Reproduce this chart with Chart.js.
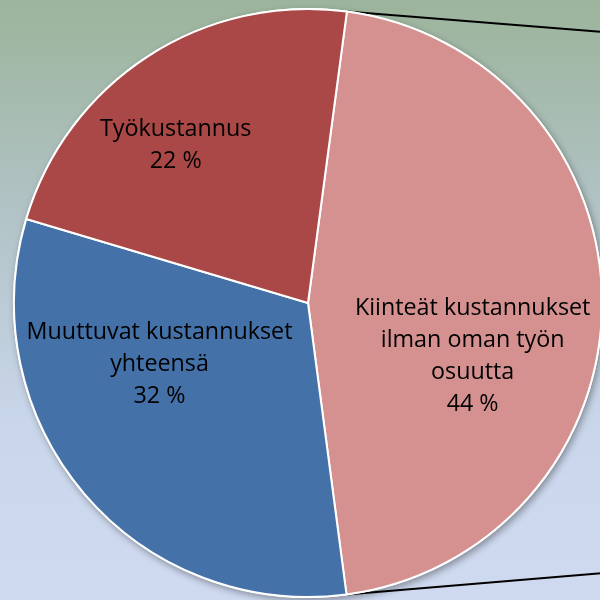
<!DOCTYPE html>
<html>
<head>
<meta charset="utf-8">
<script src="https://cdn.jsdelivr.net/npm/chart.js@4/dist/chart.umd.min.js"></script>
<style>
  html, body { margin: 0; padding: 0; width: 600px; height: 600px; overflow: hidden; }
  body { background: linear-gradient(to bottom, #9cb49b 0%, #b3c4c9 38%, #c9d6ea 70%, #cfdaf1 100%); position: relative; }
  #wrap { position: absolute; left: 0; top: 0; }
</style>
</head>
<body>
<div id="wrap"><canvas id="pie" width="616" height="600"></canvas></div>
<script>
// slice names (label lines) and values
const categories = [
    ['Kiinteät kustannukset', 'ilman oman työn', 'osuutta'],
    ['Muuttuvat kustannukset', 'yhteensä'],
    ['Työkustannus']
];
const shares = [45.8, 31.7, 22.5];     // slice sizes as drawn
const percentLabels = [44, 32, 22];    // percentages printed in the labels
const colors = ['#d49190', '#4471a7', '#a94846'];

// label anchor, as a fraction of the radius from the centre
const labelPos = [[0.56, 0.18], [-0.505, 0.21], [-0.45, -0.535]];

// drop shadow under the whole pie + connector lines to the (cropped) second pie
const pieDecor = {
    id: 'pieDecor',
    beforeDatasetsDraw(chart) {
        const ctx = chart.ctx;
        const a = chart.getDatasetMeta(0).data[0];
        const { x, y, outerRadius, startAngle, endAngle } = a;
        const right = chart.width;

        ctx.save();
        ctx.strokeStyle = '#000';
        ctx.lineWidth = 2;
        ctx.beginPath();
        ctx.moveTo(x + outerRadius * Math.cos(startAngle), y + outerRadius * Math.sin(startAngle));
        ctx.lineTo(right, 33);
        ctx.moveTo(x + outerRadius * Math.cos(endAngle), y + outerRadius * Math.sin(endAngle));
        ctx.lineTo(right, 572);
        ctx.stroke();

        ctx.shadowColor = 'rgba(0,0,0,0.35)';
        ctx.shadowBlur = 7;
        ctx.shadowOffsetX = 2;
        ctx.shadowOffsetY = 3;
        ctx.fillStyle = '#ffffff';
        ctx.beginPath();
        ctx.arc(x, y, outerRadius + 1, 0, Math.PI * 2);
        ctx.fill();
        ctx.restore();
    },
    afterDatasetsDraw(chart) {
        const ctx = chart.ctx;
        const a = chart.getDatasetMeta(0).data[0];
        const r = a.outerRadius;
        ctx.save();
        ctx.fillStyle = '#000';
        ctx.font = '23.3px "Open Sans", Lato, sans-serif';
        ctx.textAlign = 'center';
        ctx.textBaseline = 'middle';
        const lh = 32;
        categories.forEach((lines, i) => {
            const all = [...lines, percentLabels[i] + ' %'];
            const cx = a.x + labelPos[i][0] * r;
            const cy = a.y + labelPos[i][1] * r;
            const top = cy - (all.length - 1) * lh / 2;
            all.forEach((t, j) => ctx.fillText(t, cx, top + j * lh));
        });
        ctx.restore();
    }
};

new Chart(document.getElementById('pie').getContext('2d'), {
    type: 'pie',
    data: {
        labels: categories.map(c => c.join(' ')),
        datasets: [{
            data: shares,
            backgroundColor: colors,
            borderColor: '#ffffff',
            borderWidth: 2
        }]
    },
    options: {
        responsive: false,
        devicePixelRatio: 1,
        animation: false,
        rotation: 7.6,
        layout: { padding: { left: 13, right: 13, top: 8, bottom: 2 } },
        plugins: {
            legend: { display: false },
            tooltip: { enabled: false }
        }
    },
    plugins: [pieDecor]
});
</script>
</body>
</html>
